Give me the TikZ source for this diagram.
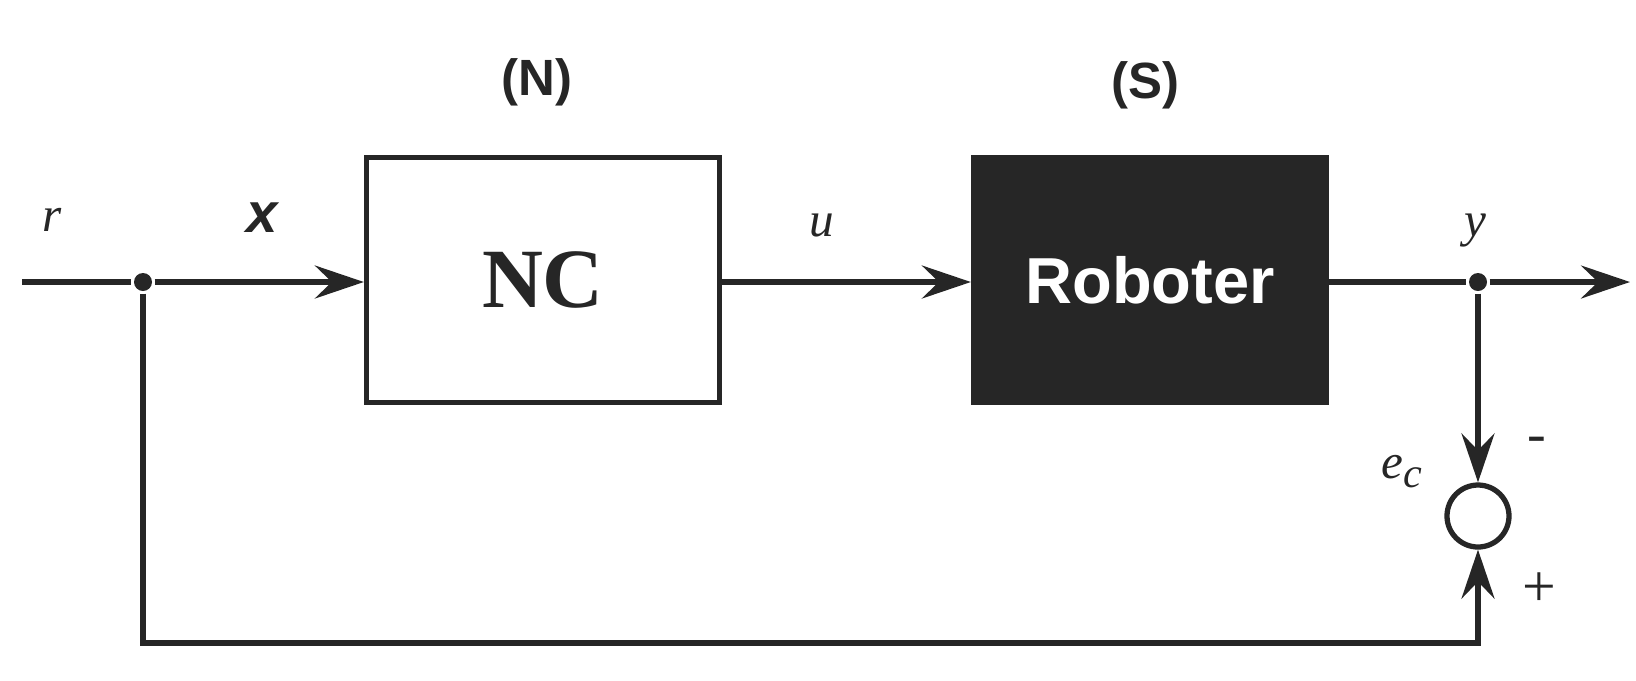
\documentclass[tikz,border=0pt]{standalone}
\usepackage{fontspec}
\setmainfont{Liberation Serif}
\setsansfont{Liberation Sans}
\usetikzlibrary{arrows.meta}

\begin{document}
\begin{tikzpicture}[line width=1.5pt, color=black!85,
  >={Stealth[length=4.9mm,width=3.3mm,inset=1.7mm]},
  block/.style={draw, minimum width=3.53cm, minimum height=2.45cm},
  dot/.style={circle, fill, inner sep=0pt, minimum size=1.8mm},
  lbl/.style={font=\fontsize{14}{14}\selectfont\itshape},
  sys/.style={font=\fontsize{14.5}{14.5}\selectfont\sffamily\bfseries}]
\useasboundingbox (0,0) rectangle (16.36,-6.80);

\coordinate (in) at (0.22,-2.82);
\node[dot] (a) at (1.43,-2.82) {};
\node[block] (nc) at (5.43,-2.80) {\fontsize{24}{24}\selectfont\bfseries NC};
\node[block, fill] (rob) at (11.50,-2.80) {\fontsize{18.5}{18.5}\selectfont\sffamily\bfseries\color{white}Roboter};
\node[dot] (b) at (14.78,-2.82) {};
\coordinate (out) at (16.30,-2.82);
\node[circle, draw, inner sep=0pt, minimum size=6.2mm] (sum) at (14.78,-5.16) {};

\draw (in) -- (a);
\draw[->] (a) -- (a -| nc.west);
\draw[->] (nc.east |- a) -- (rob.west |- a);
\draw (rob.east |- b) -- (b);
\draw[->] (b) -- (out);
\draw[->] (b) -- (sum);
\draw[->] (a) -- ++(0,-3.61) -| (sum);

\node[sys] (N) at (5.37,-0.82) {(N)};
\node[sys] (S) at (11.45,-0.85) {(S)};
\node[lbl] (r) at (0.52,-2.20) {r};
\node (x) at (2.62,-2.18) {\fontsize{16}{16}\selectfont\sffamily\bfseries\itshape x};
\node[lbl] (u) at (8.22,-2.25) {u};
\node[lbl] (y) at (14.75,-2.30) {y};
\node[lbl] (ec) at (14.02,-4.72) {e\raisebox{-0.4ex}{\fontsize{12}{12}\selectfont c}};
\node (minus) at (15.37,-4.45) {\fontsize{16}{16}\selectfont -};
\node (plus) at (15.39,-5.90) {\fontsize{17}{17}\selectfont +};
\end{tikzpicture}
\end{document}
